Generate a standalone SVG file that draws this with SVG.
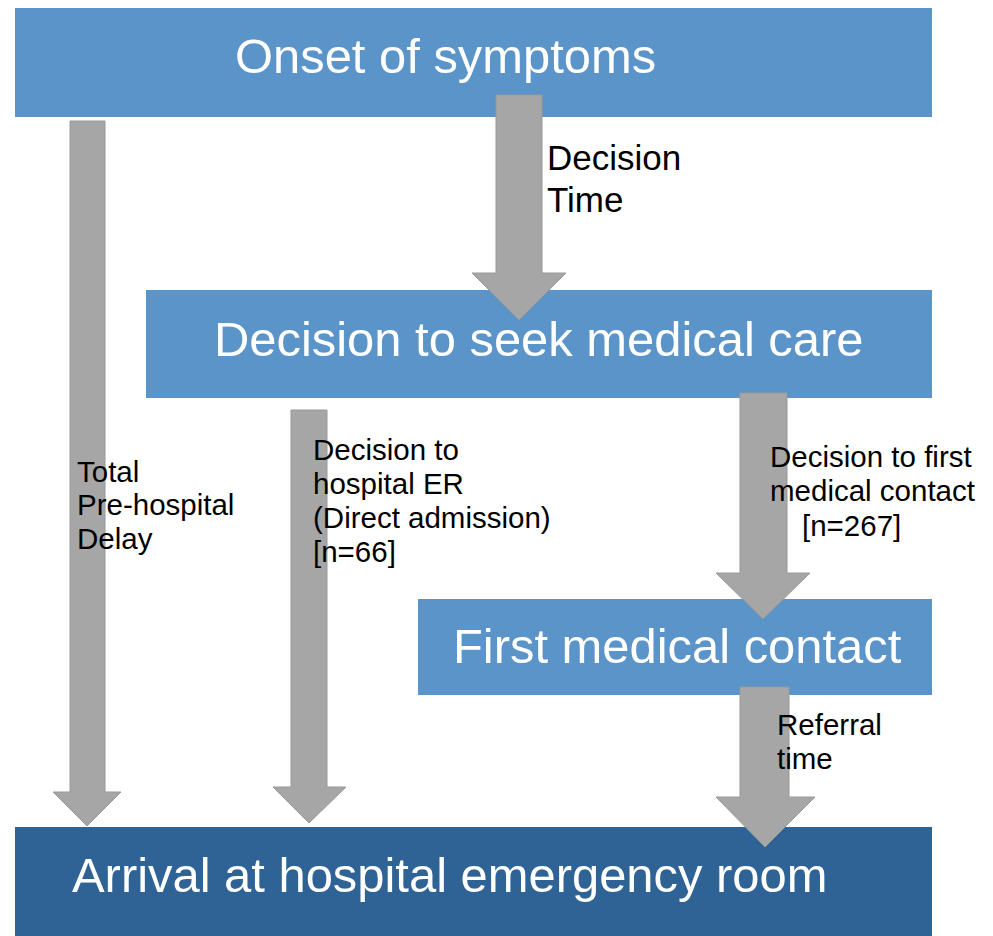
<svg xmlns="http://www.w3.org/2000/svg" width="993" height="936" viewBox="0 0 993 936">
<style>
.box{fill:#5B94C8}
.dark{fill:#2F6395}
.title{font-family:"Liberation Sans",Arial,sans-serif;font-size:48.9px;fill:#FFFFFF}
.arrow{fill:#A6A6A6;stroke:#999999;stroke-width:1}
.lbl{font-family:"Liberation Sans",Arial,sans-serif;font-size:29.5px;fill:#000000}
.lbl2{font-family:"Liberation Sans",Arial,sans-serif;font-size:35px;fill:#000000}
</style>
<rect width="993" height="936" fill="#FFFFFF"/>
<g id="onset">
<rect class="box" x="15" y="8" width="917" height="109"/>
<text class="title" x="235" y="73">Onset of symptoms</text>
</g>
<g id="decision">
<rect class="box" x="146" y="290" width="786" height="108"/>
<text class="title" x="214" y="356">Decision to seek medical care</text>
</g>
<g id="first-contact">
<rect class="box" x="418" y="599" width="514" height="96"/>
<text class="title" x="453" y="663">First medical contact</text>
</g>
<g id="arrival">
<rect class="dark" x="15" y="827" width="917" height="109"/>
<text class="title" x="72" y="892">Arrival at hospital emergency room</text>
</g>
<g id="connectors">
<polygon class="arrow" points="496,95 542,95 542,273 566,273 519,320 472,273 496,273"/>
<polygon class="arrow" points="70,121 105,121 105,792 121,792 87,826 53,792 70,792"/>
<polygon class="arrow" points="291,410 327,410 327,787 346,787 309,823 273,787 291,787"/>
<polygon class="arrow" points="740,393 787,393 787,573 810,573 763,619 716,573 740,573"/>
<polygon class="arrow" points="740,687 789,687 789,797 815,797 765,847 716,797 740,797"/>
</g>
<g id="labels">
<text class="lbl2" x="547" y="170">Decision</text>
<text class="lbl2" x="547" y="212">Time</text>
<text class="lbl" x="77" y="482">Total</text>
<text class="lbl" x="77" y="515">Pre-hospital</text>
<text class="lbl" x="77" y="549">Delay</text>
<text class="lbl" x="313" y="460">Decision to</text>
<text class="lbl" x="313" y="494">hospital ER</text>
<text class="lbl" x="313" y="528">(Direct admission)</text>
<text class="lbl" x="313" y="562">[n=66]</text>
<text class="lbl" x="770" y="467">Decision to first</text>
<text class="lbl" x="770" y="501">medical contact</text>
<text class="lbl" x="802" y="536">[n=267]</text>
<text class="lbl" x="777" y="735">Referral</text>
<text class="lbl" x="777" y="769">time</text>
</g>
</svg>
